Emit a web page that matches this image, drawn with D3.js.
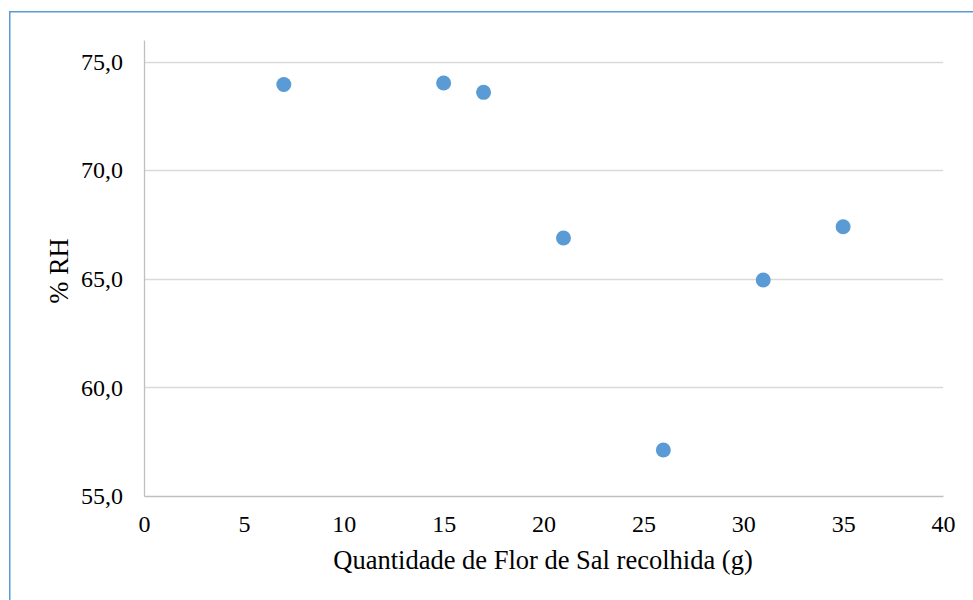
<!DOCTYPE html>
<html>
<head>
<meta charset="utf-8">
<script src="https://cdn.jsdelivr.net/npm/d3@7"></script>
<style>
  html, body { margin: 0; padding: 0; background: #fff; }
  svg { display: block; }
</style>
</head>
<body>
<svg id="chart" width="973" height="600"></svg>
<script>
// Flor de Sal collected (g) vs relative humidity (%RH)
const quantidade = [7, 15, 17, 21, 26, 31, 35];
const humidade   = [73.95, 74.02, 73.59, 66.88, 57.12, 64.95, 67.40];
const xTicks = [0, 5, 10, 15, 20, 25, 30, 35, 40];
const yTicks = [55, 60, 65, 70, 75];
const xTitle = "Quantidade de Flor de Sal recolhida (g)";
const yTitle = "% RH";

const W = 973, H = 600;
const margin = { left: 144, right: 30, top: 40, bottom: 104 };
const fontFamily = "'Liberation Serif', 'Times New Roman', serif";
const fmt = v => d3.format(".1f")(v).replace(".", ",");

const svg = d3.select("#chart");

// outer frame (left and top edges)
svg.append("path")
  .attr("d", `M9.75,${H} V11.75 H${W}`)
  .attr("fill", "none")
  .attr("stroke", "#5b9bd5")
  .attr("stroke-width", 1.5);

const x = d3.scaleLinear().domain([0, 40]).range([margin.left, W - margin.right]);
const y = d3.scaleLinear().domain([55, 76]).range([H - margin.bottom, margin.top]);

// horizontal gridlines
svg.append("g")
  .selectAll("line")
  .data(yTicks.filter(t => t > 55))
  .join("line")
  .attr("x1", x(0)).attr("x2", x(40))
  .attr("y1", d => Math.round(y(d)) + 0.5).attr("y2", d => Math.round(y(d)) + 0.5)
  .attr("stroke", "#d9d9d9")
  .attr("stroke-width", 1.3);

// y axis
const yAxis = svg.append("g")
  .attr("transform", `translate(${x(0)},0)`)
  .call(d3.axisLeft(y).tickValues(yTicks).tickFormat(fmt).tickSize(0).tickPadding(21));
yAxis.select(".domain").attr("stroke", "#bfbfbf").attr("stroke-width", 1.3);
yAxis.selectAll("text")
  .attr("font-family", fontFamily).attr("font-size", 24).attr("fill", "#000");

// x axis
const xAxis = svg.append("g")
  .attr("transform", `translate(0,${y(55)})`)
  .call(d3.axisBottom(x).tickValues(xTicks).tickFormat(d3.format("d")).tickSize(0).tickPadding(19));
xAxis.select(".domain").attr("stroke", "#bfbfbf").attr("stroke-width", 1.3);
xAxis.selectAll("text")
  .attr("font-family", fontFamily).attr("font-size", 24).attr("fill", "#000");

// data points
svg.append("g")
  .selectAll("circle")
  .data(quantidade.map((q, i) => ({ q, h: humidade[i] })))
  .join("circle")
  .attr("cx", d => x(d.q))
  .attr("cy", d => y(d.h))
  .attr("r", 7.5)
  .attr("fill", "#5b9bd5");

// axis titles
svg.append("text")
  .attr("x", 543)
  .attr("y", 569)
  .attr("text-anchor", "middle")
  .attr("font-family", fontFamily).attr("font-size", 26.5).attr("fill", "#000")
  .text(xTitle);

svg.append("text")
  .attr("transform", `translate(68,271) rotate(-90)`)
  .attr("text-anchor", "middle")
  .attr("font-family", fontFamily).attr("font-size", 26.5).attr("fill", "#000")
  .text(yTitle);
</script>
</body>
</html>
